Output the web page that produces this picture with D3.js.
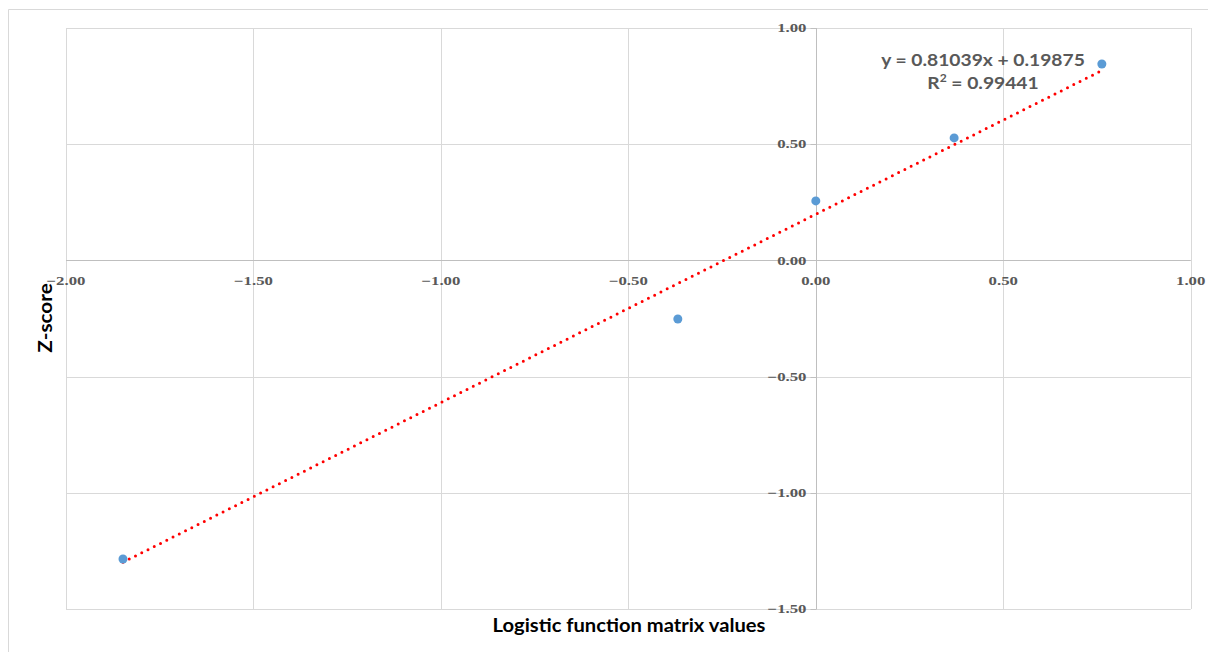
<!DOCTYPE html>
<html><head><meta charset="utf-8">
<script src="https://cdn.jsdelivr.net/npm/d3@7"></script>
<style>body{margin:0;background:#fff;} svg{display:block;}</style>
</head><body>
<svg id="c" width="1208" height="652"></svg>
<script>
const xValues = [-1.848, -0.368, 0.0, 0.369, 0.763];
const yValues = [-1.285, -0.252, 0.256, 0.527, 0.845];
const xTicks = [-2, -1.5, -1, -0.5, 0, 0.5, 1];
const yTicks = [1, 0.5, 0, -0.5, -1, -1.5];
const slope = 0.81039, intercept = 0.19875, r2 = 0.99441;
const xTitle = "Logistic function matrix values";
const yTitle = "Z-score";

const svg = d3.select("#c");
const L = 66, R = 1190.7, T = 28, B = 609;
const x = d3.scaleLinear().domain([-2, 1]).range([L, R]);
const y = d3.scaleLinear().domain([-1.5, 1]).range([B, T]);
const fmt = d3.format(".2f");
const tickFont = "Liberation Serif";
const tickSX = 1.4;

// outer chart border (left & top visible)
svg.append("path").attr("d", "M8.5,652 L8.5,9.5 L1208,9.5")
  .attr("fill", "none").attr("stroke", "#d9d9d9").attr("stroke-width", 1);

// gridlines
const g = svg.append("g");
g.selectAll("line.vg").data(xTicks).join("line")
  .attr("x1", d => Math.round(x(d)) + 0.5).attr("x2", d => Math.round(x(d)) + 0.5)
  .attr("y1", T).attr("y2", B).attr("stroke", "#d9d9d9");
g.selectAll("line.hg").data(yTicks).join("line")
  .attr("y1", d => Math.round(y(d)) + 0.5).attr("y2", d => Math.round(y(d)) + 0.5)
  .attr("x1", L).attr("x2", R).attr("stroke", "#d9d9d9");

// axes through zero
const x0 = Math.round(x(0)) + 0.5, y0 = Math.round(y(0)) + 0.5;
svg.append("line").attr("x1", L).attr("x2", R).attr("y1", y0).attr("y2", y0).attr("stroke", "#bfbfbf");
svg.append("line").attr("x1", x0).attr("x2", x0).attr("y1", T).attr("y2", B).attr("stroke", "#bfbfbf");

// y tick marks and labels
svg.selectAll("line.yt").data(yTicks).join("line")
  .attr("x1", x0 - 6).attr("x2", x0)
  .attr("y1", d => Math.round(y(d)) + 0.5).attr("y2", d => Math.round(y(d)) + 0.5)
  .attr("stroke", "#bfbfbf");
svg.selectAll("text.yl").data(yTicks).join("text")
  .attr("transform", d => `translate(${x0 - 10},${y(d)}) scale(${tickSX},1)`)
  .attr("dy", "0.35em")
  .attr("text-anchor", "end").attr("font-family", tickFont).attr("font-size", 12)
  .attr("font-weight", "bold").attr("fill", "#595959").text(d => fmt(d));

// x tick labels
svg.selectAll("text.xl").data(xTicks).join("text")
  .attr("transform", d => `translate(${x(d)},${y0 + 24}) scale(${tickSX},1)`)
  .attr("text-anchor", "middle").attr("font-family", tickFont).attr("font-size", 12)
  .attr("font-weight", "bold").attr("fill", "#595959").text(d => fmt(d));

// trendline
const xmin = d3.min(xValues), xmax = d3.max(xValues);
svg.append("line")
  .attr("x1", x(xmin)).attr("y1", y(slope * xmin + intercept))
  .attr("x2", x(xmax)).attr("y2", y(slope * xmax + intercept))
  .attr("stroke", "#ff0000").attr("stroke-width", 3)
  .attr("stroke-linecap", "round").attr("stroke-dasharray", "0 7");

// points
svg.selectAll("circle.pt").data(xValues.map((v, i) => [v, yValues[i]])).join("circle")
  .attr("cx", d => x(d[0])).attr("cy", d => y(d[1])).attr("r", 4.5)
  .attr("fill", "#5b9bd5");

// equation
const eq = svg.append("text").attr("text-anchor", "middle")
  .attr("transform", "translate(983,0) scale(1.1,1)")
  .attr("font-family", "Lato").attr("font-weight", "bold").attr("font-size", 17.5).attr("fill", "#595959");
eq.append("tspan").attr("x", 0).attr("y", 66).text(`y = ${slope}x + ${intercept}`);
const t2 = eq.append("tspan").attr("x", 0).attr("y", 89);
t2.append("tspan").text("R");
t2.append("tspan").attr("font-size", 11).attr("dy", -7).text("2");
t2.append("tspan").attr("dy", 7).text(` = ${r2}`);

// axis titles
svg.append("text").attr("transform", "translate(629,632) scale(1.12,1)").attr("text-anchor", "middle")
  .attr("font-family", "Lato").attr("font-weight", "bold").attr("font-size", 18).attr("fill", "#000")
  .text(xTitle);
svg.append("text").attr("transform", "translate(51.5,318) rotate(-90) scale(1.15,1)").attr("text-anchor", "middle")
  .attr("font-family", "Lato").attr("font-weight", "bold").attr("font-size", 18).attr("fill", "#000")
  .text(yTitle);
</script>
</body></html>
